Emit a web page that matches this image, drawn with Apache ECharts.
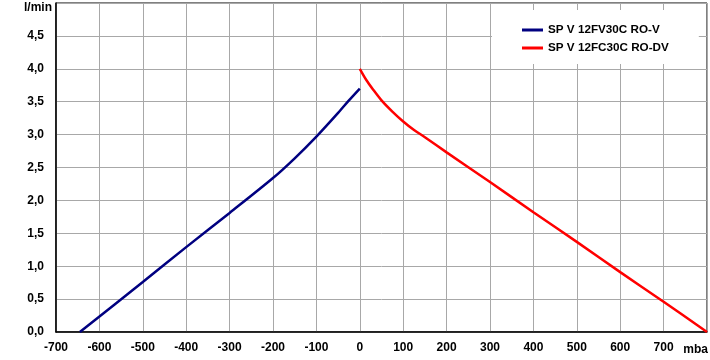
<!DOCTYPE html>
<html>
<head>
<meta charset="utf-8">
<script src="https://cdn.jsdelivr.net/npm/echarts@6/dist/echarts.min.js"></script>
<style>
  html, body { margin: 0; padding: 0; background: #fff; }
  #myChart { width: 710px; height: 360px; }
</style>
</head>
<body>
<div id="myChart"></div>
<script>
  // pressure in mbar (x) vs flow in l/min (y)
  var blueX = [-645, -500, -400, -300, -200, -150, -100, -50, -25, 0]
  var blueY = [0, 0.76, 1.29, 1.81, 2.34, 2.64, 2.97, 3.33, 3.52, 3.70]
  var redX = [0, 15, 30, 50, 75, 100, 125, 150, 200, 300, 400, 500, 600, 700, 800]
  var redY = [4.0, 3.83, 3.69, 3.52, 3.35, 3.20, 3.07, 2.96, 2.73, 2.28, 1.82, 1.37, 0.91, 0.46, 0]
  var names = ['SP V 12FV30C RO-V', 'SP V 12FC30C RO-DV']
  var colors = ['#000080', '#ff0000']

  function pairs(xs, ys) {
    return xs.map(function (x, i) { return [x, ys[i]] })
  }

  var myChart = echarts.init(document.getElementById('myChart'))
  var font = 'Liberation Sans, Arial, sans-serif'
  var labelStyle = { fontFamily: font, fontSize: 12, fontWeight: 'bold', color: '#000' }
  var option = {
    animation: false,
    color: colors,
    grid: {
      left: 56, right: 3, top: 3, bottom: 28,
      outerBoundsMode: 'none',
      containLabel: false,
      show: true, borderColor: '#000', borderWidth: 1
    },
    legend: {
      left: 492, top: 10,
      orient: 'vertical',
      backgroundColor: '#fff',
      padding: [14, 30, 10, 30],
      itemGap: 6,
      itemWidth: 21,
      itemHeight: 3,
      icon: 'rect',
      textStyle: { fontFamily: font, fontSize: 11.7, fontWeight: 'bold', color: '#000' },
      data: names
    },
    xAxis: {
      type: 'value',
      min: -700, max: 800, interval: 100,
      name: 'mba',
      nameLocation: 'end',
      nameGap: 1,
      nameTextStyle: Object.assign({ align: 'right', verticalAlign: 'top', padding: [12, 0, 0, 0] }, labelStyle),
      axisLine: { onZero: false, lineStyle: { color: '#000', width: 1.5 } },
      axisTick: { show: false },
      splitLine: { lineStyle: { color: '#a8a8a8', width: 1 } },
      axisLabel: Object.assign({
        margin: 10,
        formatter: function (v) { return v === 800 ? '' : String(v) }
      }, labelStyle)
    },
    yAxis: {
      type: 'value',
      min: 0, max: 5, interval: 0.5,
      name: 'l/min',
      nameLocation: 'end',
      nameGap: 1,
      nameTextStyle: Object.assign({ align: 'right', verticalAlign: 'top', padding: [0, 4, 0, 0] }, labelStyle),
      axisLine: { show: true, onZero: false, lineStyle: { color: '#000', width: 1.5 } },
      axisTick: { show: false },
      splitLine: { lineStyle: { color: '#a8a8a8', width: 1 } },
      axisLabel: Object.assign({
        margin: 12,
        formatter: function (v) { return v === 5 ? '' : v.toFixed(1).replace('.', ',') }
      }, labelStyle)
    },
    series: [
      {
        name: names[0], type: 'line', symbol: 'none', smooth: 0.3,
        lineStyle: { width: 2.5, color: colors[0] },
        data: pairs(blueX, blueY)
      },
      {
        name: names[1], type: 'line', symbol: 'none', smooth: 0.3,
        lineStyle: { width: 2.5, color: colors[1] },
        data: pairs(redX, redY)
      }
    ]
  }
  myChart.setOption(option)
</script>
</body>
</html>
